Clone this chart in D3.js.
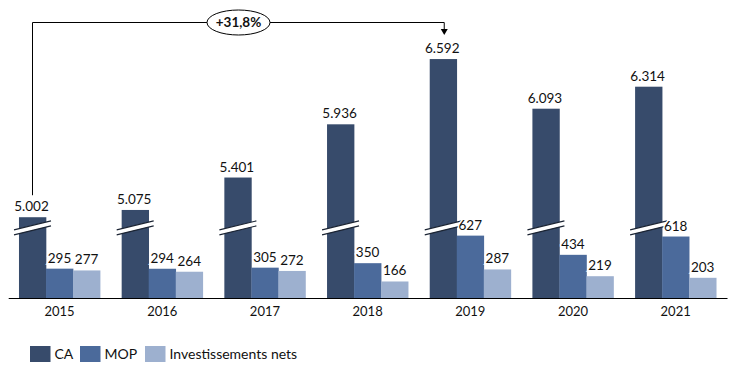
<!DOCTYPE html>
<html><head><meta charset="utf-8">
<script src="https://cdn.jsdelivr.net/npm/d3@7"></script>
<style>body{margin:0;background:#fff}svg{display:block}text{font-family:Lato,"Open Sans",sans-serif}</style>
</head><body><svg id="c" width="735" height="371"></svg>
<script>
const years = ["2015","2016","2017","2018","2019","2020","2021"];
const ca = [5002,5075,5401,5936,6592,6093,6314];
const mop = [295,294,305,350,627,434,618];
const inv = [277,264,272,166,287,219,203];
const seriesNames = ["CA","MOP","Investissements nets"];
const colors = ["#374b6b","#4b6a9b","#9db0cf"];
const caOffset = 4190;   // broken-axis offset for CA bars
const breakValue = 705;  // where the break marks sit (scale units)

const svg = d3.select("#c");
const loc = d3.formatLocale({decimal:",", thousands:".", grouping:[3], currency:["",""]});
const fmt = loc.format(",d");
const pct = loc.format("+.1%");

const x = d3.scaleBand().domain(years).range([8.2, 727]).paddingInner(0.21).paddingOuter(0.105);
const xs = d3.scaleBand().domain([0,1,2]).range([0, x.bandwidth()]);
const y = d3.scaleLinear().domain([0, 2500]).range([298, 49.3]);

const rows = years.map((yr,i)=>({yr, vals:[ca[i]-caOffset, mop[i], inv[i]], raw:[ca[i], mop[i], inv[i]]}));

const g = svg.append("g");
const grp = g.selectAll("g.yr").data(rows).join("g").attr("transform", d=>`translate(${x(d.yr)},0)`);
grp.selectAll("rect").data(d=>d.vals.map((v,k)=>({v,k,raw:d.raw[k]}))).join("rect")
  .attr("x", d=>xs(d.k)).attr("width", xs.bandwidth()+0.3)
  .attr("y", d=>y(d.v)).attr("height", d=>y(0)-y(d.v))
  .attr("fill", d=>colors[d.k]);

// break marks on CA bars
grp.each(function(){
  const cx = xs(0)+xs.bandwidth()/2;
  const cy = y(breakValue);
  const s = d3.select(this);
  s.append("polygon")
    .attr("points", [[cx-18.5,cy+2],[cx+18.5,cy-7],[cx+18.5,cy-2],[cx-18.5,cy+7]].map(p=>p.join(",")).join(" "))
    .attr("fill","#fff");
  [[cx-18.5,cy+2,cx+18.5,cy-7],[cx-18.5,cy+7,cx+18.5,cy-2]].forEach(l=>{
    s.append("line").attr("x1",l[0]).attr("y1",l[1]).attr("x2",l[2]).attr("y2",l[3])
      .attr("stroke","#1b2433").attr("stroke-width",1.1);
  });
});

// value labels (white halo so they sit cleanly over break marks)
grp.selectAll("text.v").data(d=>d.vals.map((v,k)=>({v,k,raw:d.raw[k]}))).join("text")
  .attr("class","v").attr("x", d=>xs(d.k)+xs.bandwidth()/2 + (d.k===0?-1:0)).attr("y", d=>y(d.v)-6)
  .attr("text-anchor","middle").attr("font-size",13.5).attr("fill","#111")
  .attr("stroke","#fff").attr("stroke-width",3).attr("paint-order","stroke")
  .text(d=>fmt(d.raw));

// x axis
const ax = svg.append("g").attr("transform",`translate(0,${y(0)})`)
  .call(d3.axisBottom(x).tickSize(0).tickPadding(9));
ax.select(".domain").attr("stroke","#000").attr("stroke-width",1.2);
ax.selectAll("text").attr("font-size",13).attr("fill","#111").attr("font-family","Lato, sans-serif");

// growth annotation
const x0 = x(years[0]) + xs(0) + xs.bandwidth()/2;
const x1 = x(years[4]) + xs(0) + xs.bandwidth()/2 + 1;
const topY = 22.5;
const ann = svg.append("g");
ann.append("path").attr("d",`M${x0},${y(ca[0]-caOffset)-22}V${topY}H${x1}V${y(ca[4]-caOffset)-26}`)
  .attr("fill","none").attr("stroke","#000").attr("stroke-width",1);
const tipY = y(ca[4]-caOffset)-24;
ann.append("path").attr("d",`M${x1-3.5},${tipY-6}L${x1+3.5},${tipY-6}L${x1},${tipY}Z`).attr("fill","#000");
const ex = 238.5;
ann.append("ellipse").attr("cx",ex).attr("cy",topY).attr("rx",31.5).attr("ry",12.5)
  .attr("fill","#fff").attr("stroke","#000").attr("stroke-width",1);
ann.append("text").attr("x",ex).attr("y",topY+4.5).attr("text-anchor","middle")
  .attr("font-size",13.5).attr("font-weight","bold").attr("fill","#111")
  .text(pct(ca[4]/ca[0]-1));

// legend
const legX = [30, 80, 145];
const leg = svg.append("g").selectAll("g").data(seriesNames).join("g")
  .attr("transform",(d,i)=>`translate(${legX[i]},346)`);
leg.append("rect").attr("width",20.5).attr("height",16).attr("fill",(d,i)=>colors[i]);
leg.append("text").attr("x",24.5).attr("y",13).attr("font-size",14).attr("fill","#111").text(d=>d);
</script></body></html>
